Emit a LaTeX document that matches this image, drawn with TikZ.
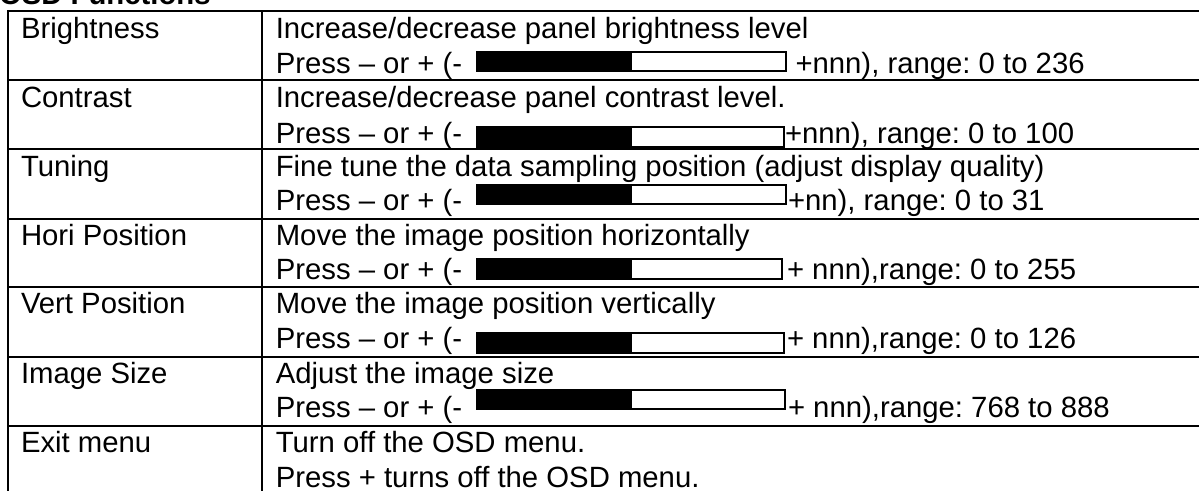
\documentclass[tikz,border=0pt]{standalone}
\usepackage{fontspec}
\setmainfont{Liberation Sans}
\frenchspacing
\begin{document}
\begin{tikzpicture}[x=1pt,y=-1pt,
  txt/.style={anchor=base west, inner sep=0pt, outer sep=0pt, font=\fontsize{29.3}{35}\selectfont\frenchspacing},
  titletxt/.style={txt, font=\fontsize{29.3}{35}\selectfont\bfseries},
  rule/.style={line width=1.9pt},
  barframe/.style={line width=1.2pt, draw=black, fill=white},
  barfill/.style={fill=black}]
\useasboundingbox (0,0) rectangle (1199,490);
\clip (0,0) rectangle (1199,490);
\fill[white] (0,0) rectangle (1199,490);
% title
\node[titletxt] (title) at (-1,4) {OSD Functions};
% table rules
\draw[rule] (8,11) -- (8,491);
\draw[rule] (262,11) -- (262,491);
\foreach \yy in {11,80,149,219,287,357,426}{
  \draw[rule] (7.05,\yy) -- (1200,\yy);
}
% bars: x-right, top, bottom
\newcommand\osdbar[4]{%
  \draw[barframe] (477,#2) rectangle (#1,#3);
  \fill[barfill] (477,#2) rectangle (632,#3);
  \coordinate (#4) at (#1,#3);
}
\osdbar{786}{52}{71}{barA}
\osdbar{784}{127}{147}{barB}
\osdbar{786}{185}{204}{barC}
\osdbar{782}{259}{279}{barD}
\osdbar{784}{333}{353}{barE}
\osdbar{785}{390}{409}{barF}
% left column
\node[txt] (l1) at (21,38.3) {Brightness};
\node[txt] (l2) at (21,107.3) {Contrast};
\node[txt] (l3) at (21,176.5) {Tuning};
\node[txt] (l4) at (21,245.5) {Hori Position};
\node[txt] (l5) at (21,313.5) {Vert Position};
\node[txt] (l6) at (21,383.5) {Image Size};
\node[txt] (l7) at (21,452.5) {Exit menu};
% right column, first lines
\node[txt] (a1) at (275.8,38.3) {Increase/decrease panel brightness level};
\node[txt] (a2) at (275.8,107.3) {Increase/decrease panel contrast level.};
\node[txt] (a3) at (275.8,176.5) {Fine tune the data sampling position (adjust display quality)};
\node[txt] (a4) at (275.8,245.5) {Move the image position horizontally};
\node[txt] (a5) at (275.8,313.5) {Move the image position vertically};
\node[txt] (a6) at (275.8,383.5) {Adjust the image size};
\node[txt] (a7) at (275.8,452.5) {Turn off the OSD menu.};
% right column, second lines
\node[txt] (p1) at (275.8,73.3) {Press – or + (-};
\node[txt] (p2) at (275.8,143) {Press – or + (-};
\node[txt] (p3) at (275.8,210.5) {Press – or + (-};
\node[txt] (p4) at (275.8,279.5) {Press – or + (-};
\node[txt] (p5) at (275.8,348) {Press – or + (-};
\node[txt] (p6) at (275.8,417.5) {Press – or + (-};
\node[txt] (p7) at (275.8,487.5) {Press + turns off the OSD menu.};
% texts after the bars
\node[txt] (q1) at (795.5,73.3) {+nnn), range: 0 to 236};
\node[txt] (q2) at (785,143) {+nnn), range: 0 to 100};
\node[txt] (q3) at (788,210.5) {+nn), range: 0 to 31};
\node[txt] (q4) at (787,279.5) {+ nnn),range: 0 to 255};
\node[txt] (q5) at (787,348) {+ nnn),range: 0 to 126};
\node[txt] (q6) at (788,417.5) {+ nnn),range: 768 to 888};
\end{tikzpicture}
\end{document}
